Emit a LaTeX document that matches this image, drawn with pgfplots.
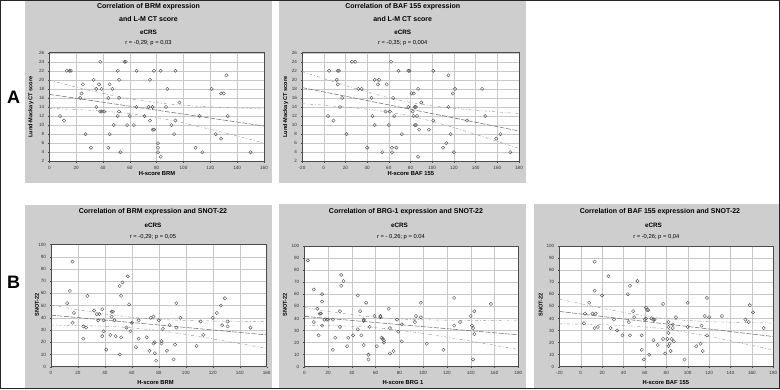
\documentclass[border=0pt]{standalone}
\usepackage{pgfplots}
\pgfplotsset{compat=1.18}
\usepackage{fontspec}
\setmainfont{Liberation Sans}
\definecolor{panelgray}{RGB}{205,206,205}
\definecolor{ptcol}{RGB}{80,80,80}
\definecolor{gridc}{RGB}{200,200,200}
\pgfplotsset{
 panel/.style={scale only axis, anchor=north west, axis background/.style={fill=white},
   grid=major, major grid style={draw=gridc, line width=0.35pt},
   axis line style={draw=black!70, line width=0.45pt},
   tick style={draw=black!70, line width=0.4pt}, tick align=outside, major tick length=1.5pt,
   xtick pos=bottom, ytick pos=left,
   ticklabel style={font=\fontsize{4.6}{5}\selectfont, text=black!80},
   /pgf/number format/assume math mode=true},
 pts/.style={only marks, mark=o, mark size=1.65pt, mark options={draw=ptcol, line width=0.4pt}},
 reg/.style={no marks, draw=black!55, line width=0.55pt, dash pattern=on 5pt off 1.5pt},
 band/.style={no marks, smooth, draw=black!40, line width=0.45pt, dash pattern=on 3pt off 2pt on 0.8pt off 2pt},
}
\newcommand{\ttl}{\bfseries\fontsize{7}{8}\selectfont}
\newcommand{\sub}{\bfseries\fontsize{6.3}{7}\selectfont}
\newcommand{\rp}{\fontsize{5.8}{7}\selectfont}
\newcommand{\xl}{\bfseries\fontsize{5.8}{7}\selectfont}
\newcommand{\yl}{\bfseries\fontsize{5.6}{7}\selectfont}

\pgfplotstableread{
x y
11 11
8 12
13 22
15 22
16 22
38 24
56 24
57 24
51 22
65 22
78 22
83 22
94 22
132 21
33 20
52 20
75 20
25 19
37 19
45 19
35 18
39 18
47 18
88 18
121 18
24 17
128 17
130 17
23 16
44 16
52 16
97 15
35 14
65 14
74 14
77 14
87 14
38 13
39 13
41 13
52 13
51 12
60 12
71 12
112 12
133 12
75 11
94 11
48 10
58 10
63 10
91 10
77 9
78 9
27 8
45 8
93 8
124 8
128 7
81 6
31 5
44 5
81 5
109 5
53 4
81 4
114 4
150 4
83 3
}\dataAone

\pgfplotstableread{
x y
26 24
29 24
62 24
5 22
13 22
14 22
69 22
78 22
79 22
101 22
115 21
12 20
47 20
51 20
13 19
50 19
58 19
32 18
35 18
87 18
121 18
146 18
81 17
83 17
119 17
17 16
44 16
64 16
90 15
15 14
78 14
84 14
85 14
115 14
57 13
61 13
82 13
4 12
45 12
65 12
83 12
86 12
149 12
9 11
101 11
132 11
47 10
60 10
84 10
85 10
88 9
97 9
21 8
72 8
117 8
163 8
159 7
113 6
40 5
63 5
67 5
110 5
54 4
63 4
120 4
172 4
87 3
}\dataAtwo

\pgfplotstableread{
x y
16 86
14 62
12 52
17 44
16 36
27 58
24 33
26 32
24 23
32 46
34 43
36 43
35 38
38 25
38 47
39 38
39 29
41 14
45 45
46 45
45 41
47 38
44 26
48 25
51 66
53 69
52 58
52 24
51 10
57 74
56 32
58 51
59 29
60 36
63 16
65 38
65 23
71 24
73 13
74 40
76 41
76 19
77 20
77 11
78 5
80 38
82 21
82 19
83 31
86 13
88 34
91 6
92 18
93 52
93 32
96 40
108 17
111 37
113 26
120 40
123 44
126 50
127 34
129 56
131 33
131 37
148 32
}\dataBone

\pgfplotstableread{
x y
3 88
8 64
15 60
15 54
11 48
13 44
14 44
8 37
15 34
12 26
17 39
19 39
20 39
24 39
31 76
33 71
31 67
30 46
30 33
26 24
24 14
36 17
37 24
41 26
45 59
47 46
45 31
48 26
50 39
50 38
52 53
50 18
54 10
54 6
55 33
59 42
61 17
64 42
64 41
65 24
66 23
67 22
67 20
71 48
72 32
72 11
75 13
78 39
79 29
82 35
82 21
93 37
94 42
98 41
98 53
103 19
117 14
126 57
126 34
131 37
140 42
141 34
142 32
143 46
143 27
142 6
157 52
}\dataBtwo

\pgfplotstableread{
x y
13 87
13 63
8 53
4 44
11 44
14 44
3 36
13 32
16 33
20 59
26 75
28 32
31 39
34 30
39 26
44 60
45 37
46 26
46 67
49 46
50 41
53 71
57 26
57 14
59 6
60 39
61 40
61 49
62 47
63 47
64 10
66 40
68 39
69 39
68 22
72 18
77 23
77 52
79 11
81 23
82 37
82 33
82 28
82 17
83 19
84 13
85 23
86 35
86 32
87 21
89 41
97 6
100 53
100 33
108 17
112 19
113 34
114 13
116 42
118 57
118 26
120 41
132 42
154 39
157 37
158 51
161 45
171 32
}\dataBthree

\begin{document}
\begin{tikzpicture}[x=1pt,y=1pt]
\fill[white] (0,0) rectangle (780,-389);
\fill[panelgray] (25,0) rectangle (272,-183);
\fill[panelgray] (279,0) rectangle (526,-183);
\fill[panelgray] (25,-205) rectangle (272,-389);
\fill[panelgray] (279,-204) rectangle (526,-389);
\fill[panelgray] (534,-204) rectangle (780,-389);

% ---------- A1
\begin{axis}[panel, at={(49.3pt,-52.7pt)}, width=214.7pt, height=108.6pt,
  xmin=0, xmax=160, ymin=2, ymax=26, xtick={0,20,...,160}, ytick={2,4,...,26}]
\addplot[band] coordinates {(0,19.90)(20,18.41)(40,17.01)(60,15.82)(80,14.94)(100,14.39)(120,14.03)(140,13.78)(160,13.57)};
\addplot[band] coordinates {(0,13.70)(20,13.45)(40,13.09)(60,12.54)(80,11.66)(100,10.47)(120,9.07)(140,7.58)(160,6.03)};
\addplot[reg] coordinates {(0,16.8)(160,9.8)};
\addplot[pts] table[x=x,y=y] {\dataAone};
\end{axis}

% ---------- A2
\begin{axis}[panel, at={(302pt,-52.7pt)}, width=217pt, height=108.6pt,
  xmin=-20, xmax=180, ymin=2, ymax=26, xtick={-20,0,...,180}, ytick={2,4,...,26}]
\addplot[band] coordinates {(-20,21.85)(0,20.29)(20,18.77)(40,17.33)(60,16.04)(80,15.01)(100,14.26)(120,13.72)(140,13.29)(160,12.91)(180,12.56)};
\addplot[band] coordinates {(-20,14.75)(0,14.39)(20,13.99)(40,13.51)(60,12.88)(80,11.99)(100,10.82)(120,9.44)(140,7.95)(160,6.41)(180,4.84)};
\addplot[reg] coordinates {(-20,18.3)(180,8.7)};
\addplot[pts] table[x=x,y=y] {\dataAtwo};
\end{axis}

% ---------- B1
\begin{axis}[panel, at={(51pt,-244.5pt)}, width=215.7pt, height=122.2pt,
  xmin=0, xmax=160, ymin=0, ymax=100, xtick={0,20,...,160}, ytick={0,10,...,100}]
\addplot[band] coordinates {(0,50.39)(20,46.65)(40,43.23)(60,40.48)(80,38.71)(100,37.81)(120,37.38)(140,37.18)(160,37.10)};
\addplot[band] coordinates {(0,34.01)(20,33.71)(40,33.09)(60,31.80)(80,29.53)(100,26.39)(120,22.78)(140,18.94)(160,14.98)};
\addplot[reg] coordinates {(0,42.2)(160,26.04)};
\addplot[pts] table[x=x,y=y] {\dataBone};
\end{axis}

% ---------- B2
\begin{axis}[panel, at={(304.3pt,-246pt)}, width=214pt, height=120.7pt,
  xmin=0, xmax=180, ymin=0, ymax=100, xtick={0,20,...,180}, ytick={0,10,...,100}]
\addplot[band] coordinates {(0,49.05)(20,45.90)(40,43.09)(60,40.91)(80,39.54)(100,38.84)(120,38.54)(140,38.44)(160,38.45)(180,38.53)};
\addplot[band] coordinates {(0,34.35)(20,34.10)(40,33.51)(60,32.29)(80,30.26)(100,27.56)(120,24.46)(140,21.16)(160,17.75)(180,14.27)};
\addplot[reg] coordinates {(0,41.7)(180,26.4)};
\addplot[pts] table[x=x,y=y] {\dataBtwo};
\end{axis}

% ---------- B3
\begin{axis}[panel, at={(559.3pt,-246pt)}, width=214pt, height=120.7pt,
  xmin=-20, xmax=180, ymin=0, ymax=100, xtick={-20,0,...,180}, ytick={0,10,...,100}]
\addplot[band] coordinates {(-20,56.05)(0,52.23)(20,48.53)(40,45.06)(60,42.03)(80,39.73)(100,38.27)(120,37.40)(140,36.84)(160,36.45)(180,36.14)};
\addplot[band] coordinates {(-20,35.55)(0,35.21)(20,34.75)(40,34.06)(60,32.93)(80,31.07)(100,28.37)(120,25.08)(140,21.48)(160,17.71)(180,13.86)};
\addplot[reg] coordinates {(-20,45.8)(180,25.0)};
\addplot[pts] table[x=x,y=y] {\dataBthree};
\end{axis}

% ---------- texts A1
\node[font=\ttl] at (148.5,-7) {Correlation of BRM expression};
\node[font=\ttl] at (148.5,-19.3) {and L-M CT score};
\node[font=\sub] at (148.5,-32) {eCRS};
\node[font=\rp] at (148.5,-43.3) {r = -0,29; p = 0,03};
\node[font=\xl] at (157,-174) {H-score BRM};
\node[font=\yl, rotate=90] at (31,-107) {Lund-Mackay CT score};
% ---------- texts A2
\node[font=\ttl] at (402.7,-7) {Correlation of BAF 155 expression};
\node[font=\ttl] at (402.7,-19.3) {and L-M CT score};
\node[font=\sub] at (402.7,-32) {eCRS};
\node[font=\rp] at (402.7,-43.3) {r = -0,35; p = 0,004};
\node[font=\xl] at (410.8,-174) {H-score BAF 155};
\node[font=\yl, rotate=90] at (285.7,-107) {Lund-Mackay CT score};
% ---------- texts B1
\node[font=\ttl] at (153,-212) {Correlation of BRM expression and SNOT-22};
\node[font=\sub] at (153,-225.2) {eCRS};
\node[font=\rp] at (153,-237) {r = -0,29; p = 0,05};
\node[font=\xl] at (155.5,-382.7) {H-score BRM};
\node[font=\yl, rotate=90] at (37,-305) {SNOT-22};
% ---------- texts B2
\node[font=\ttl] at (406,-212) {Correlation of BRG-1 expression and SNOT-22};
\node[font=\sub] at (399.5,-225.2) {eCRS};
\node[font=\rp] at (401,-237) {r = - 0,26; p = 0.04};
\node[font=\xl] at (403,-382.7) {H-score BRG 1};
\node[font=\yl, rotate=90] at (285,-305) {SNOT-22};
% ---------- texts B3
\node[font=\ttl] at (660,-212) {Correlation of BAF 155 expression and SNOT-22};
\node[font=\sub] at (653.5,-225.2) {eCRS};
\node[font=\rp] at (656.3,-237) {r = -0,26; p = 0,04};
\node[font=\xl] at (665.8,-382.7) {H-score BAF 155};
\node[font=\yl, rotate=90] at (540.7,-305) {SNOT-22};
% ---------- panel letters
\node[font=\bfseries\fontsize{18}{20}\selectfont] at (13.5,-97) {A};
\node[font=\bfseries\fontsize{18}{20}\selectfont] at (13.5,-282) {B};
% frame
\draw[black!85, line width=0.9pt] (0.45,-0.45) rectangle (779.55,-388.55);
\pgfresetboundingbox
\useasboundingbox (0,0) rectangle (780,-389);
\end{tikzpicture}
\end{document}
